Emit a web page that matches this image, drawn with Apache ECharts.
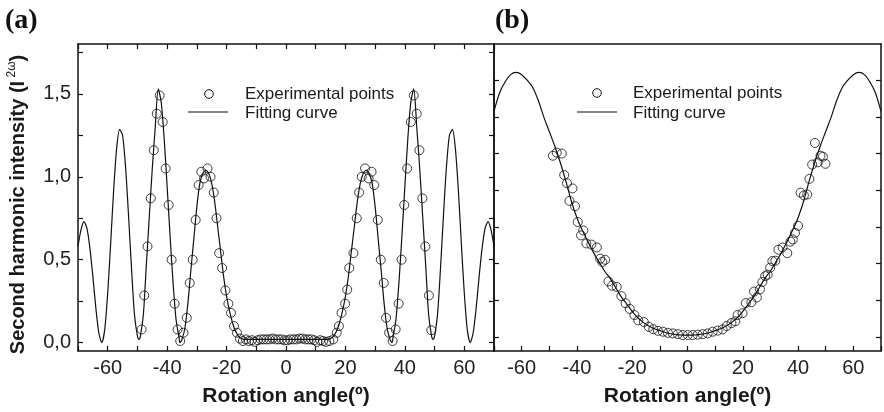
<!DOCTYPE html>
<html><head><meta charset="utf-8">
<script src="https://cdn.jsdelivr.net/npm/echarts@6/dist/echarts.min.js"></script>
<style>html,body{margin:0;padding:0;background:#fff}#c{width:884px;height:412px}</style>
</head><body><div id="c"></div>
<script>
// ---------- Panel (a) ----------
const fitAX = [-70,-69,-68,-67,-66,-65,-64,-63,-62,-61,-60,-59,-58,-57,-56,-55,-54,-53,-52,-51,-50,-49.5,
  -49,-48,-47,-46,-45,-44,-43,-42,-41,-40,-39,-38,-37,-36,-35.7,
  -35,-34,-33,-32,-31,-30,-29,-28,-27,-26,-25,-24,-23,-22,-21,-20,-19,-18,-17,-16,-15,-14,
  -12,-10,-8,-6,-4,-2,0,2,4,6,8,10,12,
  14,15,16,17,18,19,20,21,22,23,24,25,26,27,28,29,30,31,32,33,34,35,35.7,
  36,37,38,39,40,41,42,43,44,45,46,47,48,49,49.5,
  50,51,52,53,54,55,56,57,58,59,60,61,62,63,64,65,66,67,68,69,70];
const fitAY = [0.58,0.68,0.73,0.69,0.57,0.40,0.21,0.06,0.00,0.08,0.30,0.60,0.92,1.17,1.285,1.25,1.06,0.77,0.45,0.17,0.04,0.02,
  0.04,0.17,0.47,0.76,1.05,1.30,1.53,1.45,1.23,0.94,0.64,0.36,0.14,0.03,0.00,
  0.02,0.09,0.24,0.44,0.63,0.82,0.96,1.02,1.04,1.02,0.96,0.85,0.70,0.55,0.40,0.28,0.19,0.12,0.07,0.04,0.025,0.02,
  0.02,0.02,0.02,0.02,0.02,0.02,0.02,0.02,0.02,0.02,0.02,0.02,0.02,
  0.02,0.025,0.04,0.07,0.12,0.19,0.28,0.40,0.55,0.70,0.85,0.96,1.02,1.04,1.02,0.96,0.82,0.63,0.44,0.24,0.09,0.02,0.00,
  0.03,0.14,0.36,0.64,0.94,1.23,1.45,1.53,1.30,1.05,0.76,0.47,0.17,0.04,0.02,
  0.04,0.17,0.45,0.77,1.06,1.25,1.285,1.17,0.92,0.60,0.30,0.08,0.00,0.06,0.21,0.40,0.57,0.69,0.73,0.68,0.58];
const expAX = [-48.6,-47.7,-46.6,-45.5,-44.5,-43.5,-42.5,-41.5,-40.5,-39.5,-38.5,-37.5,-36.5,-35.6,-34.5,-33.4,-32.4,-31.4,-30.4,-29.4,
  -28.5,-27.6,-26.4,-25.4,-24.3,-23.4,-22.5,-21.5,-20.4,-19.4,-18.5,-17.5,-16.5,-15.5,-14.5,
  -13.5,-12.5,-11.5,-10.5,-9.5,-8.5,-7.5,-6.5,-5.5,-4.5,-3.5,-2.5,-1.5,-0.5,0.5,1.5,2.5,3.5,4.5,5.5,6.5,7.5,8.5,9.5,10.5,11.5,12.5,13.5,
  14.6,15.9,17.1,17.8,18.7,19.9,20.6,21.3,22.7,23.8,24.6,25.5,26.6,27.8,28.8,29.7,30.9,31.9,32.9,33.7,34.7,35.9,36.9,37.9,38.9,39.8,
  40.8,42.0,43.0,44.0,44.9,45.9,46.9,48.1,48.9];
const expAY = [0.08,0.285,0.58,0.87,1.16,1.38,1.49,1.33,1.05,0.83,0.50,0.235,0.08,0.01,0.06,0.15,0.36,0.50,0.74,0.95,
  1.03,0.99,1.05,1.00,0.905,0.75,0.54,0.45,0.315,0.235,0.18,0.10,0.06,0.025,0.01,
  0.02,0.01,0.015,0.005,0.015,0.02,0.02,0.02,0.02,0.025,0.02,0.02,0.02,0.015,0.015,0.02,0.02,0.02,0.025,0.025,0.02,0.02,0.02,0.015,0.005,0.015,0.01,0.005,
  0.01,0.02,0.06,0.10,0.18,0.235,0.32,0.45,0.54,0.75,0.905,1.00,1.05,0.99,1.03,0.95,0.74,0.50,0.36,0.15,0.06,0.01,0.08,0.235,0.50,0.83,
  1.05,1.33,1.49,1.38,1.16,0.87,0.58,0.285,0.075];

// ---------- Panel (b) ----------
const fitBX = [-70,-68,-66,-64,-62,-60,-58,-56,-54,-52,-50,-48,-46,-44,-42,-40,-38,-36,-34,-32,-30,-28,-26,-24,-22,-20,-18,-16,-14,-12,-10,-8,-6,-4,-2,
  0,2,4,6,8,10,12,14,16,18,20,22,24,26,28,30,32,34,36,38,40,42,44,46,48,50,52,54,56,58,60,62,64,66,68,70];
const fitBY = [1.23,1.33,1.39,1.43,1.442,1.43,1.40,1.36,1.29,1.20,1.12,1.04,0.95,0.85,0.74,0.65,0.58,0.52,0.46,0.41,0.36,0.32,0.27,0.22,0.18,0.14,0.105,0.08,0.06,0.045,0.035,0.025,0.018,0.013,0.011,
  0.01,0.011,0.013,0.018,0.025,0.035,0.045,0.06,0.08,0.105,0.14,0.18,0.22,0.27,0.32,0.36,0.41,0.46,0.52,0.58,0.65,0.74,0.85,0.95,1.04,1.12,1.20,1.29,1.36,1.40,1.43,1.442,1.43,1.39,1.33,1.23];
const expBX = [-48.7,-47.3,-45.5,-44.6,-43.6,-42.7,-41.6,-40.7,-39.7,-38.5,-37.7,-36.6,-34.8,-32.8,-31.6,-30.8,-29.8,-28.6,-27.3,-25.6,
  -23.9,-22.4,-20.9,-19.2,-17.8,-15.8,-14.0,-12.4,-10.7,-8.9,-7.1,-5.3,-3.5,-1.7,0.1,1.9,3.7,5.5,7.3,9.1,10.9,12.7,
  14.2,15.9,17.3,18.1,19.9,21.1,23.1,24.1,25.1,26.2,27.1,28.1,29.0,29.9,30.7,31.8,32.9,34.4,36.1,37.2,38.1,38.9,40.0,
  40.9,42.1,43.3,44.1,45.1,46.1,47.1,48.1,49.0,49.9];
const expBY = [0.988,1.005,1.00,0.883,0.838,0.742,0.81,0.713,0.627,0.554,0.581,0.51,0.504,0.488,0.427,0.409,0.421,0.303,0.28,0.273,
  0.223,0.184,0.153,0.12,0.091,0.082,0.056,0.043,0.034,0.029,0.023,0.02,0.016,0.011,0.011,0.011,0.013,0.016,0.02,0.029,0.035,0.042,
  0.06,0.076,0.086,0.12,0.13,0.185,0.19,0.248,0.216,0.26,0.30,0.332,0.34,0.378,0.414,0.416,0.476,0.488,0.457,0.52,0.532,0.568,0.606,
  0.787,0.772,0.777,0.862,0.94,1.058,0.952,0.988,0.983,0.944];

// ---------- Ticks ----------
const xLabelTicks = [-60,-40,-20,0,20,40,60];
const yLabelsA = [0,0.5,1.0,1.5];
const yTicksA = [0,0.25,0.5,0.75,1.0,1.25,1.5,1.75];
const yTicksB = [0,0.2,0.4,0.6,0.8,1.0,1.2,1.4];

const zip = (xs, ys) => xs.map((x, i) => [x, ys[i]]);
const INK = '#111';
const SANS = 'Liberation Sans';
const lineSt = { color: INK, width: 1.5 };

function xAx(grid, pos, labels, name) {
  return {
    type: 'value', gridIndex: grid, position: pos, min: -70, max: 70, interval: 10,
    axisLine: { show: true, onZero: false, lineStyle: lineSt },
    axisTick: { show: pos === 'bottom' || grid === 0, inside: true, length: 5, lineStyle: { color: INK, width: 1.2 } },
    axisLabel: labels ? {
      show: true, color: '#222', fontSize: 20, fontFamily: SANS, margin: 7,
      formatter: v => xLabelTicks.indexOf(v) >= 0 ? String(v) : ''
    } : { show: false },
    splitLine: { show: false },
    name: name || '', nameLocation: 'middle', nameGap: 35,
    nameTextStyle: { fontSize: 21, fontWeight: 'bold', fontFamily: SANS, color: '#1a1a1a' }
  };
}
function yAx(grid, pos, min, max, ticks, labels, extra) {
  return Object.assign({
    type: 'value', gridIndex: grid, position: pos, min: min, max: max,
    axisLine: { show: true, onZero: false, lineStyle: lineSt },
    axisTick: { show: true, inside: true, length: 5, customValues: ticks, lineStyle: { color: INK, width: 1.2 } },
    axisLabel: labels ? {
      show: true, customValues: labels, color: '#222', fontSize: 20, fontFamily: SANS, margin: 7,
      formatter: v => v.toFixed(1).replace('.', ',')
    } : { show: false },
    splitLine: { show: false }
  }, extra || {});
}

const chart = echarts.init(document.getElementById('c'), null, { renderer: 'canvas' });
chart.setOption({
  backgroundColor: '#fff',
  animation: false,
  grid: [
    { left: 78, top: 44, width: 416, height: 307 },
    { left: 494, top: 44, width: 389, height: 307 }
  ],
  xAxis: [
    xAx(0, 'bottom', true, 'Rotation angle(º)'),
    xAx(0, 'top', false),
    xAx(1, 'bottom', true, 'Rotation angle(º)'),
    xAx(1, 'top', false)
  ],
  yAxis: [
    yAx(0, 'left', -0.05, 1.8, yTicksA, yLabelsA, {
      name: '{m|Second harmonic intensity (I}{s| 2ω}{m|)}',
      nameLocation: 'middle', nameGap: 48,
      nameTextStyle: {
        padding: [0, 14, 0, 0],
        rich: {
          m: { fontSize: 20, fontWeight: 'bold', fontFamily: SANS, color: '#1a1a1a', lineHeight: 24 },
          s: { fontSize: 12, fontFamily: SANS, color: '#1a1a1a', verticalAlign: 'top', lineHeight: 24 }
        }
      }
    }),
    yAx(0, 'right', -0.05, 1.8, yTicksA, null),
    yAx(1, 'left', -0.076, 1.597, yTicksB, null),
    yAx(1, 'right', -0.076, 1.597, yTicksB, null)
  ],
  series: [
    { type: 'line', xAxisIndex: 0, yAxisIndex: 0, data: zip(fitAX, fitAY), showSymbol: false, symbol: 'none',
      smooth: 0.25, lineStyle: { color: INK, width: 1.2 }, z: 2 },
    { type: 'scatter', xAxisIndex: 0, yAxisIndex: 0, data: zip(expAX, expAY), symbol: 'circle', symbolSize: 9,
      itemStyle: { color: 'rgba(0,0,0,0)', borderColor: INK, borderWidth: 1 }, z: 3 },
    { type: 'line', xAxisIndex: 2, yAxisIndex: 2, data: zip(fitBX, fitBY), showSymbol: false, symbol: 'none',
      smooth: 0.3, lineStyle: { color: INK, width: 1.2 }, z: 2 },
    { type: 'scatter', xAxisIndex: 2, yAxisIndex: 2, data: zip(expBX, expBY), symbol: 'circle', symbolSize: 9,
      itemStyle: { color: 'rgba(0,0,0,0)', borderColor: INK, borderWidth: 1 }, z: 3 }
  ],
  graphic: [
    { type: 'text', x: 5, y: 21, style: { text: '(a)', font: 'bold 28px "Liberation Serif"', fill: '#111', verticalAlign: 'middle' } },
    { type: 'text', x: 495, y: 21, style: { text: '(b)', font: 'bold 28px "Liberation Serif"', fill: '#111', verticalAlign: 'middle' } },
    // legend (a)
    { type: 'circle', shape: { cx: 209, cy: 94, r: 4.3 }, style: { fill: 'none', stroke: INK, lineWidth: 1 } },
    { type: 'line', shape: { x1: 188, y1: 112, x2: 228, y2: 112 }, style: { stroke: INK, lineWidth: 1.2 } },
    { type: 'text', x: 245, y: 94, style: { text: 'Experimental points', font: '17px "Liberation Sans"', fill: '#1a1a1a', verticalAlign: 'middle' } },
    { type: 'text', x: 245, y: 113, style: { text: 'Fitting curve', font: '17px "Liberation Sans"', fill: '#1a1a1a', verticalAlign: 'middle' } },
    // legend (b)
    { type: 'circle', shape: { cx: 597, cy: 93, r: 4.3 }, style: { fill: 'none', stroke: INK, lineWidth: 1 } },
    { type: 'line', shape: { x1: 577, y1: 112, x2: 617, y2: 112 }, style: { stroke: INK, lineWidth: 1.2 } },
    { type: 'text', x: 633, y: 93, style: { text: 'Experimental points', font: '17px "Liberation Sans"', fill: '#1a1a1a', verticalAlign: 'middle' } },
    { type: 'text', x: 633, y: 113, style: { text: 'Fitting curve', font: '17px "Liberation Sans"', fill: '#1a1a1a', verticalAlign: 'middle' } }
  ]
});
</script>
</body></html>
